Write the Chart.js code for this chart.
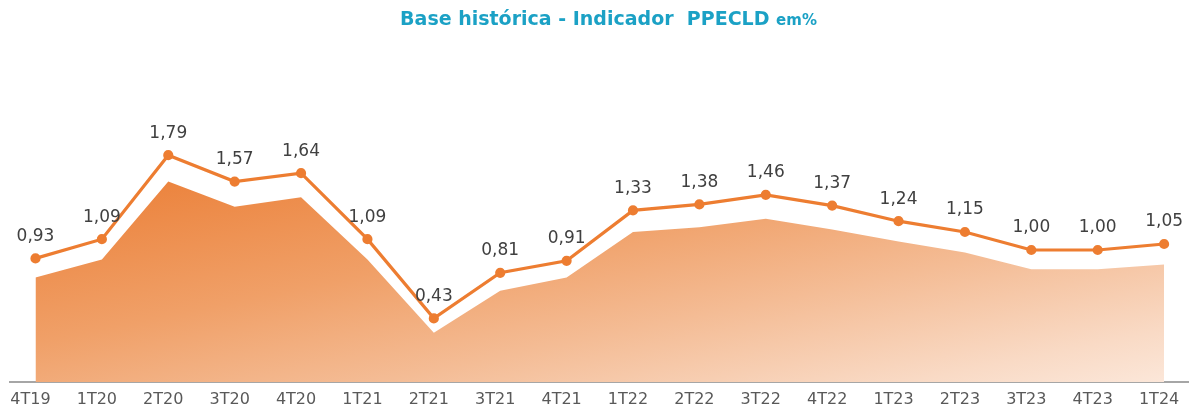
<!DOCTYPE html>
<html>
<head>
<meta charset="utf-8">
<script src="https://cdn.jsdelivr.net/npm/chart.js@4"></script>
<style>
  html, body { margin: 0; padding: 0; background: #fff; }
  #caja { position: relative; width: 1195px; height: 412px; }
  #titulo {
    position: absolute; left: 0; top: 7px; width: 1195px; text-align: center;
    font-family: "DejaVu Sans", sans-serif; font-weight: bold; font-size: 19px;
    color: #1BA1C5; white-space: pre; padding-left: 22px; box-sizing: border-box;
  }
  #titulo span { font-size: 15px; }
</style>
</head>
<body>
<div id="caja">
  <canvas id="grafico" width="1195" height="412"></canvas>
  <div id="titulo">Base histórica - Indicador  PPECLD <span>em%</span></div>
</div>
<script>
// trimestres y valores del indicador
const trimestres = ['4T19','1T20','2T20','3T20','4T20','1T21','2T21','3T21','4T21',
                    '1T22','2T22','3T22','4T22','1T23','2T23','3T23','4T23','1T24'];
const ppecld = [0.93, 1.09, 1.79, 1.57, 1.64, 1.09, 0.43, 0.81, 0.91,
                1.33, 1.38, 1.46, 1.37, 1.24, 1.15, 1.00, 1.00, 1.05];
// area sombreada debajo de la linea
const sombra = [0.77, 0.92, 1.57, 1.36, 1.44, 0.92, 0.31, 0.66, 0.77,
                1.15, 1.19, 1.26, 1.17, 1.07, 0.98, 0.84, 0.84, 0.88];

const naranja = '#ED7D31';

// etiquetas de valor encima de cada punto
const etiquetas = {
  id: 'etiquetas',
  afterDatasetsDraw(chart) {
    const ctx = chart.ctx;
    const meta = chart.getDatasetMeta(0);
    ctx.save();
    ctx.font = '17px "DejaVu Sans"';
    ctx.fillStyle = '#404040';
    ctx.textAlign = 'center';
    ctx.textBaseline = 'middle';
    meta.data.forEach((p, i) => {
      ctx.fillText(ppecld[i].toFixed(2).replace('.', ','), p.x, p.y - 22);
    });
    ctx.restore();
  }
};

const ctx = document.getElementById('grafico').getContext('2d');
const chart = new Chart(ctx, {
  type: 'line',
  data: {
    datasets: [{
      label: 'PPECLD',
      data: ppecld.map((v, i) => ({ x: i, y: v })),
      borderColor: naranja,
      backgroundColor: naranja,
      borderWidth: 3.2,
      pointRadius: 3.5,
      pointHoverRadius: 3.5,
      fill: false,
      tension: 0
    }, {
      label: 'sombra',
      data: sombra.map((v, i) => ({ x: i, y: v })),
      borderWidth: 0,
      pointRadius: 0,
      fill: 'start',
      tension: 0,
      backgroundColor: (c) => {
        const a = c.chart.chartArea;
        if (!a) return '#F3A877';
        // degradado casi vertical, se aclara hacia abajo y a la derecha
        const g = c.chart.ctx.createLinearGradient(a.left + 160, a.top + 127, a.left + 245, a.top + 544);
        g.addColorStop(0, '#EC8540');
        g.addColorStop(0.3, '#F0A068');
        g.addColorStop(0.55, '#F4BC95');
        g.addColorStop(0.8, '#F9DAC5');
        g.addColorStop(1, '#FDEFE6');
        return g;
      }
    }]
  },
  options: {
    responsive: false,
    animation: false,
    layout: { padding: { top: 58, left: 10, right: 7, bottom: 0 } },
    plugins: {
      legend: { display: false },
      tooltip: { enabled: false }
    },
    scales: {
      x: {
        type: 'linear',
        min: -0.384,
        max: 17.36,
        grid: { display: false, drawTicks: false },
        border: { display: true, color: '#A6A6A6', width: 2 },
        afterFit: (s) => { s.height = 30; },
        ticks: {
          stepSize: 1,
          includeBounds: false,
          autoSkip: false,
          maxRotation: 0,
          padding: 8,
          labelOffset: -5,
          color: '#595959',
          font: { family: 'DejaVu Sans', size: 16 },
          callback: (v) => Number.isInteger(v) ? trimestres[v] : ''
        }
      },
      y: {
        display: false,
        min: -0.1,
        max: 2.6
      }
    }
  },
  plugins: [etiquetas]
});
</script>
</body>
</html>
